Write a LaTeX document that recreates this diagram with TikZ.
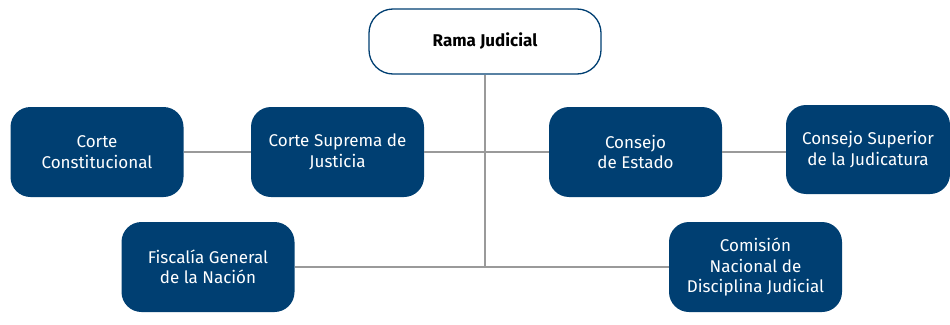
\documentclass[tikz,border=0pt]{standalone}
\usepackage{fontspec}
\setmainfont{Fira Sans}
\definecolor{azul}{HTML}{003F72}
\definecolor{gris}{HTML}{9A9A9A}
\begin{document}
\begin{tikzpicture}[x=1pt,y=-1pt]
        \tikzset{rama/.style={draw=azul,line width=1.3pt,rounded corners=24pt,fill=white,
            minimum width=232pt,minimum height=65pt,font=\bfseries\fontsize{17}{20}\selectfont,align=center},
          ente/.style={fill=azul,text=white,rounded corners=20pt,minimum width=173pt,
            minimum height=90pt,font=\fontsize{17}{20.5}\selectfont,align=center,inner sep=0pt},
          linea/.style={draw=gris,line width=1.4pt}}
        \useasboundingbox (0,0) rectangle (950,324);
        %\node (name) at (x,y) [ente] {text};
        \node[rama] (rj) at (485,41.5) {Rama Judicial};
        \node[ente] (cc) at (97,152) {Corte\\Constitucional};
        \node[ente] (cs) at (337.5,152) {Corte Suprema de\\Justicia};
        \node[ente] (ce) at (635.5,152) {Consejo\\de Estado};
        \node[ente,minimum width=164pt,minimum height=89pt] (csj) at (868,149.5) {Consejo Superior\\de la Judicatura};
        \node[ente] (fg) at (208,267) {Fiscalía General\\de la Nación};
        \node[ente] (cn) at (755.5,267) {Comisión\\Nacional de\\Disciplina Judicial};
        \coordinate (j) at (485,267);
        \draw[linea] (rj)--(j)
        (cc)--(cs)
        (cs)--(ce)
        (ce.east)--(ce.east -| csj.west)
        (fg)--(cn);
    \end{tikzpicture}
\end{document}
